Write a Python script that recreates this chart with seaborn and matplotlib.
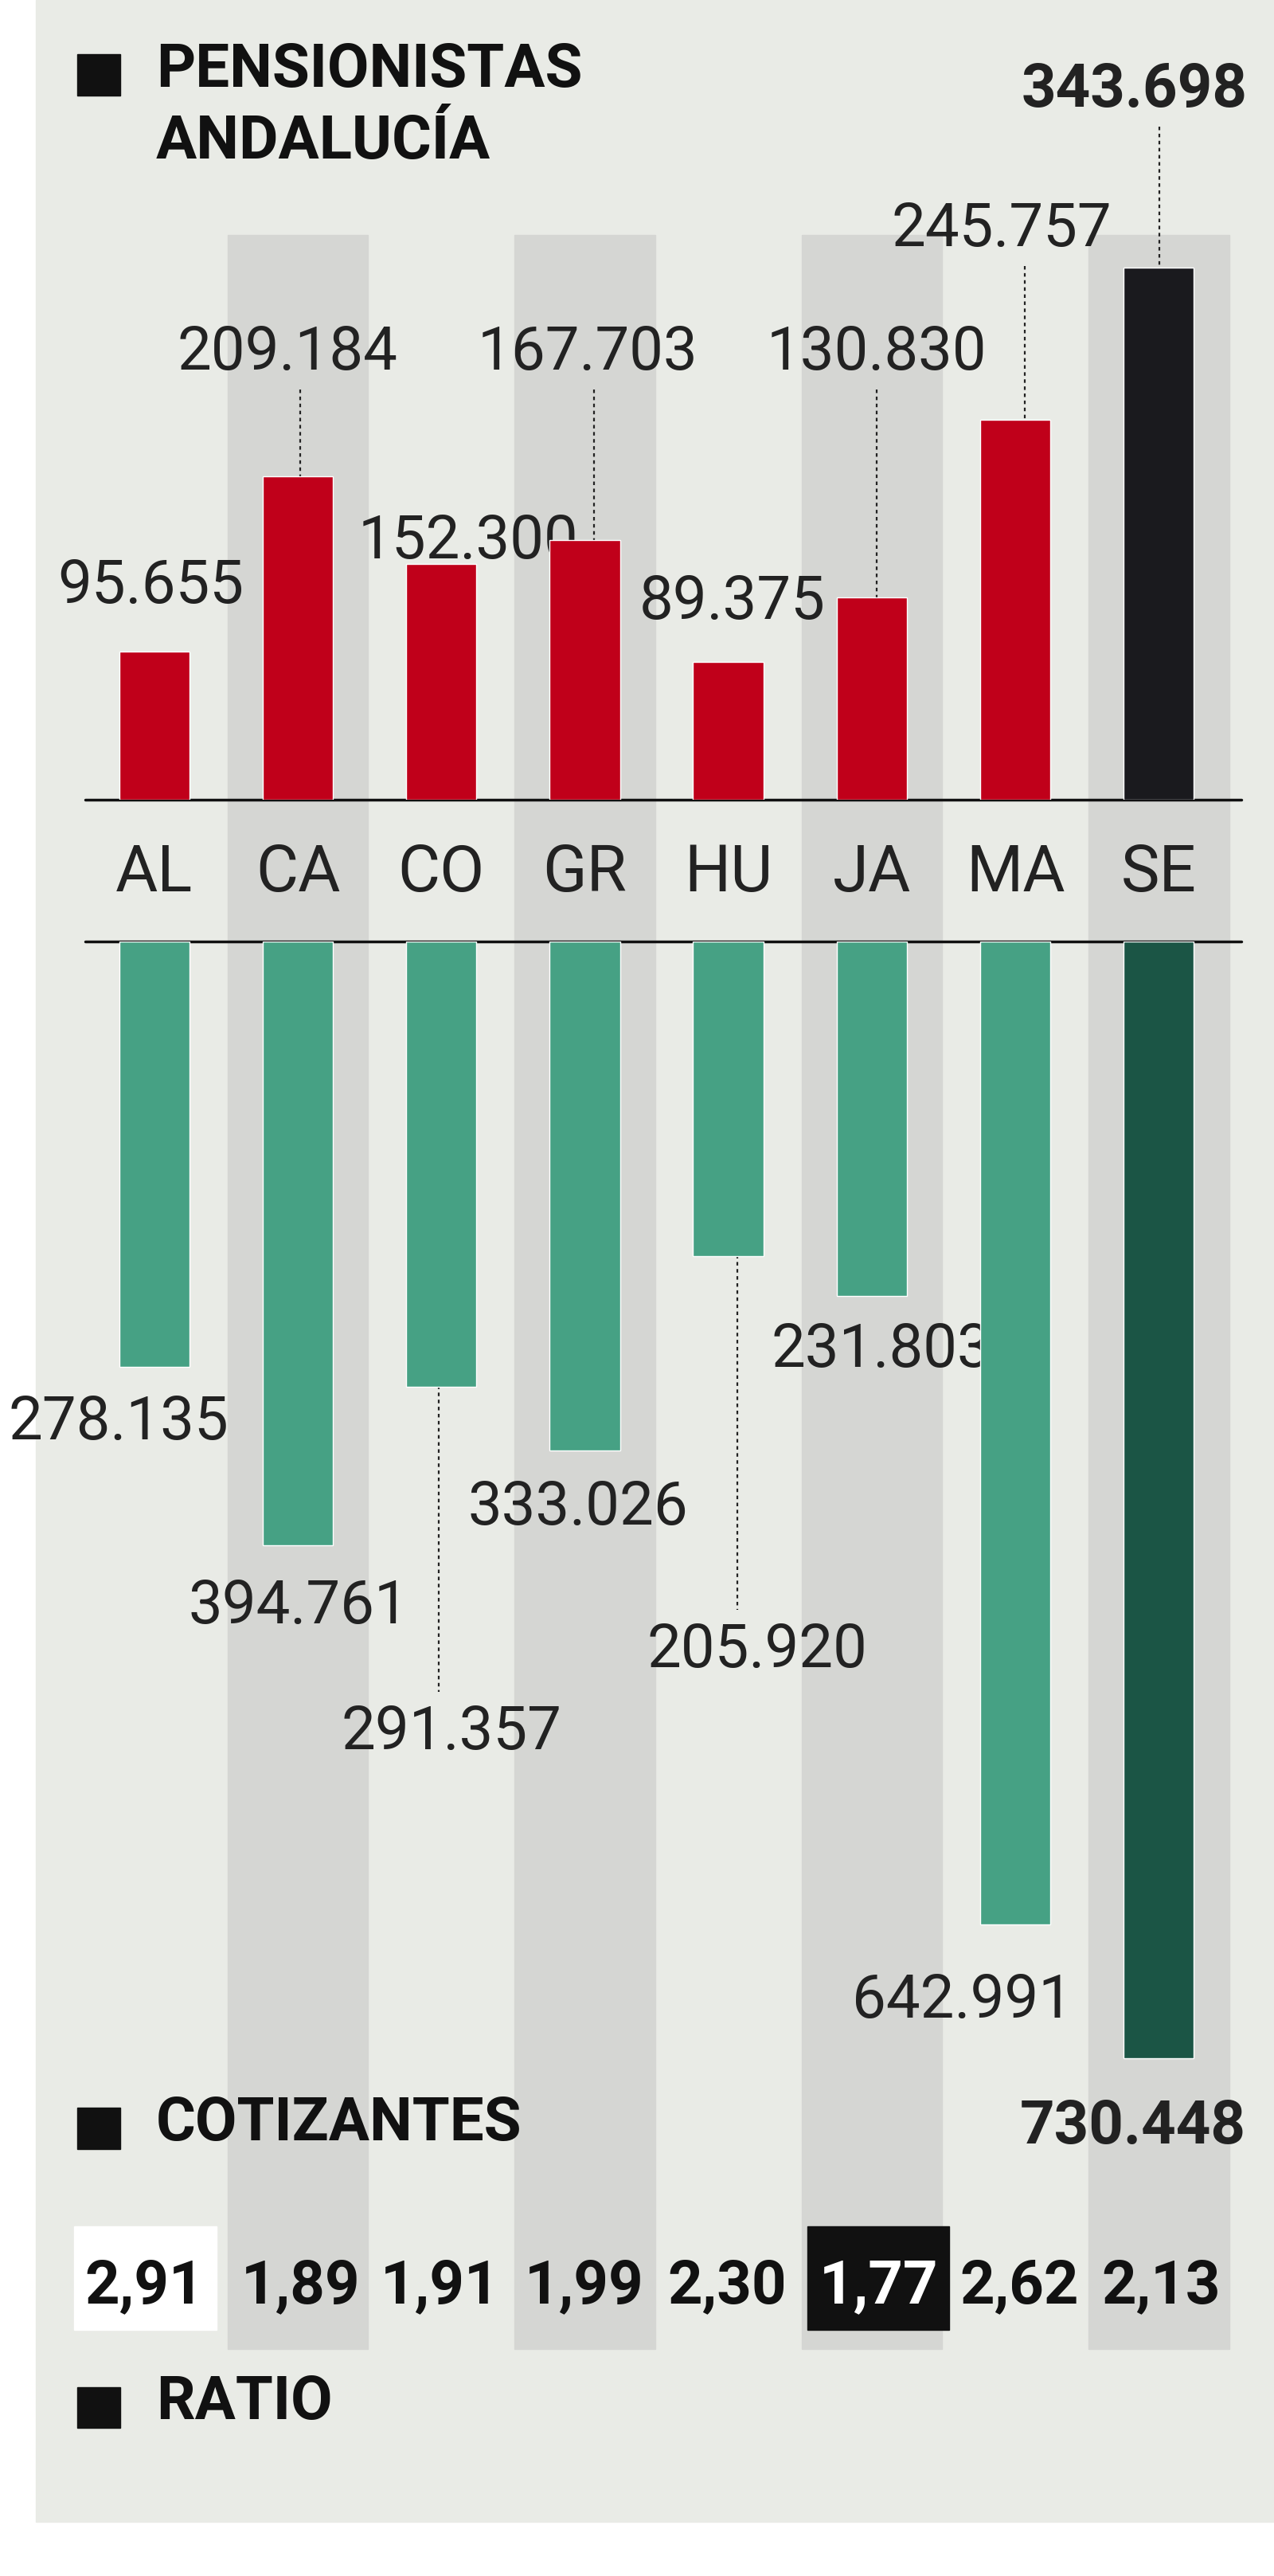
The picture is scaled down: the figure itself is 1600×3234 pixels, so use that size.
import matplotlib
matplotlib.use("Agg")
import matplotlib.pyplot as plt
import seaborn as sns
from matplotlib.patches import Rectangle

sns.set_theme(style="white")
plt.rcParams['font.family'] = ['Roboto', 'DejaVu Sans']

codes = ["AL", "CA", "CO", "GR", "HU", "JA", "MA", "SE"]
pensionistas = [95655, 209184, 152300, 167703, 89375, 130830, 245757, 343698]
cotizantes = [278135, 394761, 291357, 333026, 205920, 231803, 642991, 730448]
ratio = ["2,91", "1,89", "1,91", "1,99", "2,30", "1,77", "2,62", "2,13"]
pens_labels = ["95.655", "209.184", "152.300", "167.703", "89.375", "130.830", "245.757", "343.698"]
cot_labels = ["278.135", "394.761", "291.357", "333.026", "205.920", "231.803", "642.991", "730.448"]

W, H = 776, 1568
S = 1600 / W
fig = plt.figure(figsize=(16, 32.34), dpi=100)
fig.patch.set_facecolor("white")
XL = (-94 / 87.4, (W - 94) / 87.4)
px = lambda p: (p - 94) / 87.4

bg = fig.add_axes([0, 0, 1, 1])
bg.set_xlim(*XL); bg.set_ylim(H, 0); bg.axis("off")
bg.add_patch(Rectangle((px(22), 0), px(W) - px(22), 1535, color="#e9ebe6", zorder=0))
for i in [1, 3, 5, 7]:
    bg.add_patch(Rectangle((i - 0.49, 143), 0.98, 1430 - 143, color="#d5d6d3", zorder=1))

top_scale = 324 / 343698
bot_scale = 680 / 730448
axt = fig.add_axes([0, 1 - 487 / H, 1, 487 / H])
sns.barplot(x=codes, y=pensionistas, hue=codes, legend=False, width=0.49, ax=axt,
            palette=["#c0001a"] * 7 + ["#1a1a1e"], saturation=1)
axt.set_xlim(*XL); axt.set_ylim(0, 487 / top_scale); axt.axis("off")
axb = fig.add_axes([0, 0, 1, (H - 573) / H])
sns.barplot(x=codes, y=cotizantes, hue=codes, legend=False, width=0.49, ax=axb,
            palette=["#46a184"] * 7 + ["#1b5545"], saturation=1)
axb.set_xlim(*XL); axb.set_ylim((H - 573) / bot_scale, 0); axb.axis("off")
for a in (axt, axb):
    a.patch.set_alpha(0)

bg.plot([px(52), px(756)], [487, 487], color="#111", lw=2.5, zorder=5)
bg.plot([px(52), px(756)], [573, 573], color="#111", lw=2.5, zorder=5)
for i, c in enumerate(codes):
    bg.text(i, 532, c, ha="center", va="center", fontsize=30 * S * 0.72 / 0.72 * 0.95, color="#222", zorder=6)

fs = 28 * S * 0.95
# pensionistas labels: (x_px, y_px, leader)
ptop = [(92, 357, False), (175, 215, True), (285, 330, False), (358, 215, True),
        (446, 367, False), (534, 215, True), (610, 140, True), (691, 55, True)]
leader_x = {1: 183, 3: 362, 5: 534, 6: 624, 7: 706}
for i, (x, y, ld) in enumerate(ptop):
    bold = i == 7
    bg.text(px(x), y, pens_labels[i], ha="center", va="center", fontsize=fs,
            fontweight="bold" if bold else "normal", color="#222", zorder=6)
    if ld:
        end = 487 - pensionistas[i] * top_scale
        bg.plot([px(leader_x[i])] * 2, [y + 22, end], ls=(0, (2, 2)), color="#222", lw=1.6, zorder=6)

pbot = [(72, 866, None), (182, 978, None), (275, 1055, 267), (352, 918, None),
        (461, 1005, 449), (537, 822, None), (586, 1218, None), (690, 1295, None)]
for i, (x, y, lx) in enumerate(pbot):
    bold = i == 7
    bg.text(px(x), y, cot_labels[i], ha="center", va="center", fontsize=fs,
            fontweight="bold" if bold else "normal", color="#222", zorder=6)
    if lx:
        end = 573 + cotizantes[i] * bot_scale
        bg.plot([px(lx)] * 2, [end - 100, y - 25], ls=(0, (2, 2)), color="#222", lw=1.6, zorder=6)

# titles
for ty, lines in [(45, "PENSIONISTAS\nANDALUCÍA"), (1295, "COTIZANTES"), (1465, "RATIO")]:
    bg.add_patch(Rectangle((px(47), ty - 12), px(73) - px(47), 25, color="#111", zorder=6))
    bg.text(px(95), ty - 20, lines, ha="left", va="top", fontsize=fs, fontweight="bold",
            color="#111", linespacing=1.3, zorder=6)

# ratio row
rx = [88, 183, 268, 356, 443, 535, 621, 707]
for i, r in enumerate(ratio):
    col = "#111"
    if i == 0:
        bg.add_patch(Rectangle((px(45), 1355), px(132) - px(45), 63, color="white", zorder=6))
    if i == 5:
        bg.add_patch(Rectangle((px(492), 1355), px(578) - px(492), 63, color="#111", zorder=6))
        col = "white"
    bg.text(px(rx[i]), 1392, r, ha="center", va="center", fontsize=fs, fontweight="bold",
            color=col, zorder=7)

fig.savefig("out.png", dpi=100)
